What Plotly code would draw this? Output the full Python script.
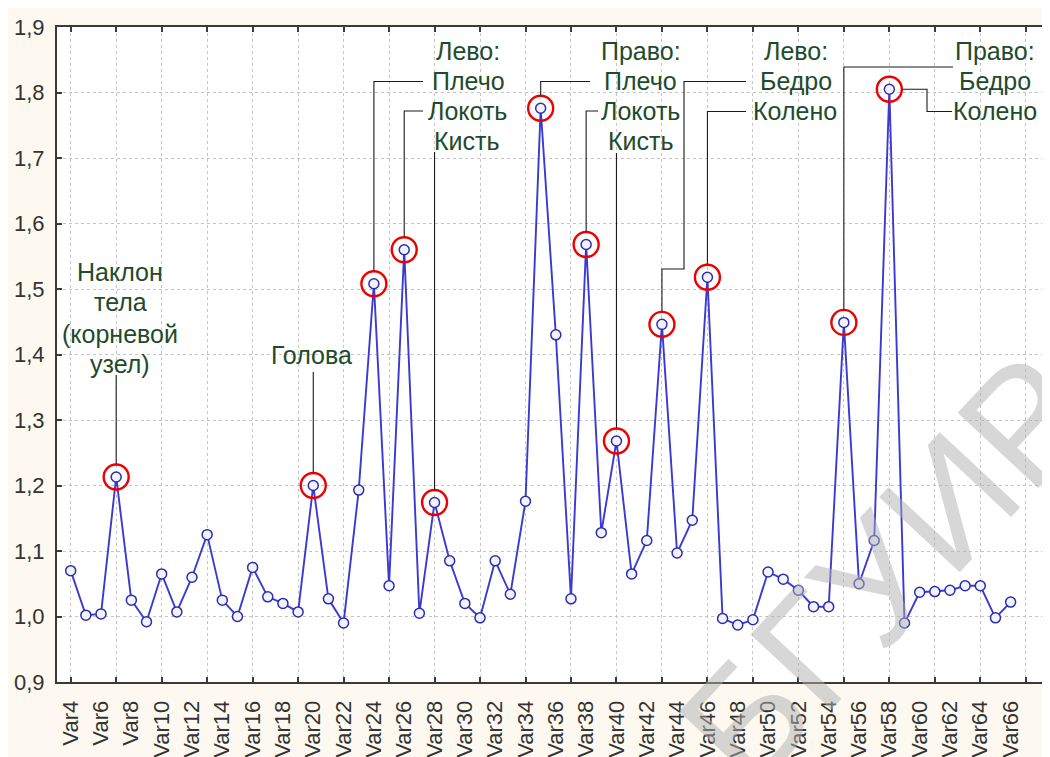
import plotly.graph_objects as go

# ---------------- data ----------------
var_index = list(range(4, 67))
values = [1.070, 1.002, 1.004, 1.213, 1.025, 0.992, 1.065, 1.007, 1.060, 1.125,
          1.025, 1.000, 1.075, 1.030, 1.020, 1.007, 1.200, 1.027, 0.990, 1.193,
          1.508, 1.047, 1.560, 1.005, 1.174, 1.085, 1.020, 0.998, 1.085, 1.034,
          1.176, 1.776, 1.430, 1.027, 1.568, 1.128, 1.268, 1.065, 1.116, 1.446,
          1.097, 1.147, 1.518, 0.997, 0.987, 0.995, 1.068, 1.057, 1.040, 1.015,
          1.015, 1.449, 1.050, 1.116, 1.805, 0.990, 1.037, 1.038, 1.040, 1.047,
          1.047, 0.998, 1.022]
highlight_vars = [7, 20, 24, 26, 28, 35, 38, 40, 43, 46, 55, 58]
label_vars = list(range(4, 67, 2))
label_text = [f"Var{v}" for v in label_vars]
grid_vars = list(range(4, 70, 3))
y_ticks = [0.9, 1.0, 1.1, 1.2, 1.3, 1.4, 1.5, 1.6, 1.7, 1.8, 1.9]

# ---------------- layout constants ----------------
W, H = 1050, 757
OFF = 8                      # page body margin of the browser
S_LEFT, S_TOP, S_BOTTOM = 57, 27, 682   # plot edges as seen on screen
PX_PER_VAR = 15.16
VAR4_PX = 70.7
ML, MT = S_LEFT - OFF, S_TOP - OFF
MB = H - (S_BOTTOM - OFF)
MR = 0
PW, PH = W - ML - MR, H - MT - MB
YR = [0.9, 1.9]
XR = [4 - (VAR4_PX - S_LEFT) / PX_PER_VAR, 0]
XR[1] = XR[0] + PW / PX_PER_VAR


def X(px):
    return XR[0] + (px - S_LEFT) / PX_PER_VAR


def Y(py):
    return YR[1] - (py - S_TOP) / PH * (YR[1] - YR[0])


R = 13 / PH * (YR[1] - YR[0])       # red circle radius in data units
RX = 13 / PX_PER_VAR
val = dict(zip(var_index, values))

GREEN = "#1E4B2C"
FONT = "Arial, Liberation Sans, sans-serif"

fig = go.Figure()
fig.add_trace(go.Scatter(
    x=var_index, y=values, mode="lines+markers",
    line=dict(color="#3a3ad2", width=1.9),
    marker=dict(symbol="circle", size=10, color="#f3f3ff",
                line=dict(color="#2d2daa", width=1.5)),
    showlegend=False, hoverinfo="x+y"))
fig.add_trace(go.Scatter(
    x=highlight_vars, y=[val[v] for v in highlight_vars], mode="markers",
    marker=dict(symbol="circle-open", size=25, color="#ee0000",
                line=dict(width=2.4)),
    showlegend=False, hoverinfo="skip"))
# dummy trace to activate the grid axis
fig.add_trace(go.Scatter(x=XR, y=[1, 1], xaxis="x2", mode="markers",
                         marker=dict(opacity=0), showlegend=False,
                         hoverinfo="skip"))

# ---------------- text labels ----------------
texts = [
    ("Наклон", 120, 272), ("тела", 120, 302), ("(корневой", 120, 334), ("узел)", 120, 364),
    ("Голова", 311, 355),
    ("Лево:", 468, 51), ("Плечо", 468, 81), ("Локоть", 467, 111), ("Кисть", 467, 141),
    ("Право:", 641, 51), ("Плечо", 640, 81), ("Локоть", 640, 111), ("Кисть", 641, 141),
    ("Лево:", 796, 51), ("Бедро", 796, 81), ("Колено", 795, 111),
    ("Право:", 995, 51), ("Бедро", 995, 81), ("Колено", 995, 111),
]
annotations = []
for t, px, py in texts:
    annotations.append(dict(x=X(px), y=Y(py), xref="x", yref="y", text=t,
                            showarrow=False, xanchor="center", yanchor="middle",
                            font=dict(family=FONT, size=25, color=GREEN)))
annotations.append(dict(x=X(885), y=Y(570), xref="x", yref="y", text="БГУИР",
                        showarrow=False, textangle=-47,
                        font=dict(family=FONT, size=160, color="rgba(175,175,175,0.5)")))

# ---------------- leader lines ----------------
def top(v):
    return val[v] + R


leaders = [
    [(7, Y(375)), (7, top(7))],
    [(20, Y(372)), (20, top(20))],
    [(X(423), Y(81.5)), (24, Y(81.5)), (24, top(24))],
    [(X(423), Y(111)), (26, Y(111)), (26, top(26))],
    [(28, Y(152)), (28, top(28))],
    [(X(590), Y(81.5)), (35, Y(81.5)), (35, top(35))],
    [(X(598), Y(111)), (38, Y(111)), (38, top(38))],
    [(40, Y(153)), (40, top(40))],
    [(X(746), Y(81.5)), (X(684), Y(81.5)), (X(684), Y(269)), (43, Y(269)), (43, top(43))],
    [(X(746), Y(111.5)), (46, Y(111.5)), (46, top(46))],
    [(X(953), Y(67)), (55, Y(67)), (55, top(55))],
    [(58 + RX, val[58]), (X(927), val[58]), (X(927), Y(111.5)), (X(952), Y(111.5))],
]
shapes = []
for pts in leaders:
    path = "M " + " L ".join(f"{a},{b}" for a, b in pts)
    shapes.append(dict(type="path", path=path, xref="x", yref="y",
                       line=dict(color="#1a1a1a", width=1.1)))

fig.update_layout(
    width=W, height=H,
    margin=dict(l=ML, r=MR, t=MT, b=MB, pad=0, autoexpand=False),
    paper_bgcolor="#FDF9F0", plot_bgcolor="white",
    separators=", ",
    font=dict(family=FONT, color="#333333"),
    annotations=annotations, shapes=shapes,
    xaxis=dict(range=XR, tickmode="array", tickvals=label_vars, ticktext=label_text,
               tickangle=-90, tickfont=dict(size=22, color="#333333"),
               ticks="", showgrid=False, zeroline=False,
               showline=True, mirror=True, linecolor="#3a3a3a", linewidth=2,
               ticklabelstandoff=8),
    xaxis2=dict(overlaying="x", matches="x", range=XR, side="bottom",
                tickmode="array", tickvals=grid_vars, showticklabels=False,
                ticks="inside", ticklen=5, tickwidth=1.5, tickcolor="#3a3a3a",
                mirror="ticks", showline=False,
                showgrid=True, gridcolor="#c4c4c4", griddash="dot", gridwidth=1,
                zeroline=False),
    yaxis=dict(range=YR, tickmode="array", tickvals=y_ticks, tickformat=".1f",
               tickfont=dict(size=22, color="#333333"),
               ticks="inside", ticklen=5, tickwidth=1.5, tickcolor="#3a3a3a",
               showline=True, linecolor="#3a3a3a", linewidth=2, mirror=False,
               showgrid=True, gridcolor="#c4c4c4", griddash="dot", gridwidth=1,
               zeroline=False, ticklabelstandoff=6),
)

fig.write_html("out.html")
